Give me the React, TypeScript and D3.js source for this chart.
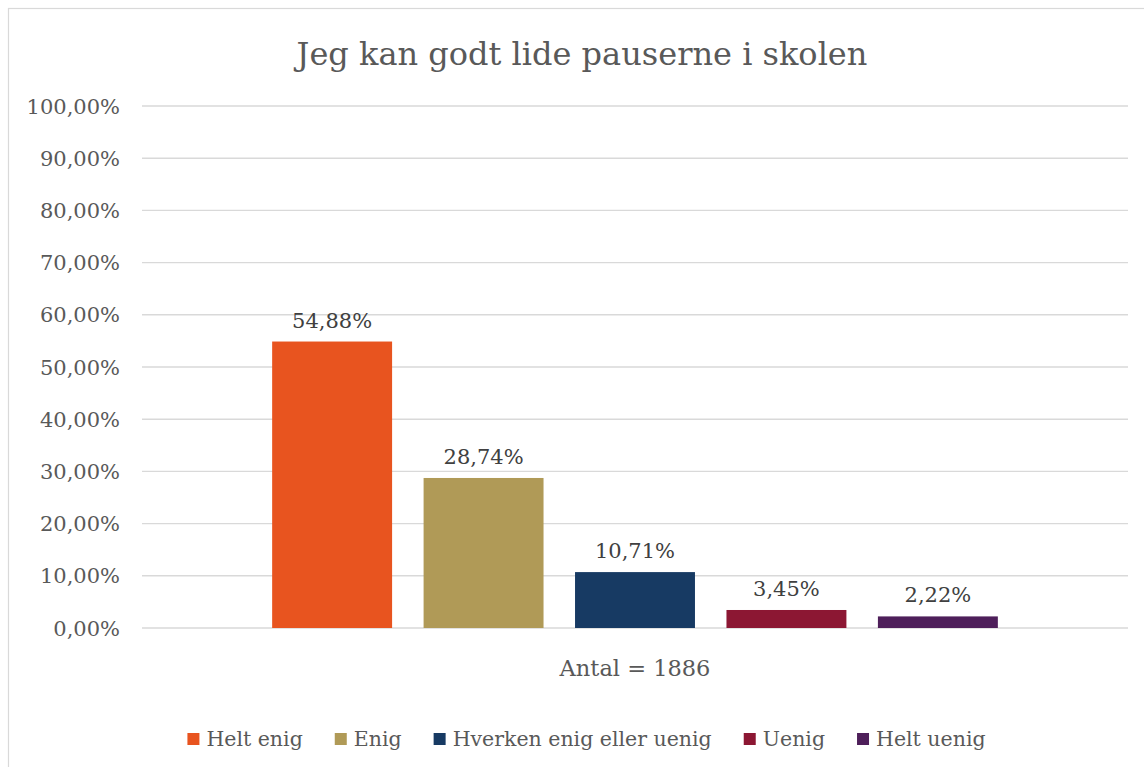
import React, { useEffect, useRef } from "react";
import * as d3 from "d3";

const title = "Jeg kan godt lide pauserne i skolen";
const category = "Antal = 1886";
const seriesNames = ["Helt enig", "Enig", "Hverken enig eller uenig", "Uenig", "Helt uenig"];
const seriesValues = [54.88, 28.74, 10.71, 3.45, 2.22];
const seriesColors = ["#E8541F", "#B09A57", "#173A63", "#8C1733", "#4E1F5A"];
const yTicks = [0, 10, 20, 30, 40, 50, 60, 70, 80, 90, 100];

const W = 1144;
const H = 767;
const FONT = "'DejaVu Serif', 'Liberation Serif', serif";

const fmt = (v: number) => v.toFixed(2).replace(".", ",") + "%";

export default function App() {
  const ref = useRef<SVGSVGElement | null>(null);

  useEffect(() => {
    const svg = d3.select(ref.current);
    svg.selectAll("*").remove();

    svg.append("rect")
      .attr("x", 8.5).attr("y", 8.5)
      .attr("width", W + 20).attr("height", H + 20)
      .attr("fill", "#fff").attr("stroke", "#d9d9d9").attr("stroke-width", 1.2);

    const plotLeft = 142, plotRight = 1128, plotTop = 106, plotBottom = 628;

    const y = d3.scaleLinear().domain([0, 100]).range([plotBottom, plotTop]);
    const xCat = d3.scaleBand().domain([category]).range([plotLeft, plotRight]).padding(0);
    const catCenter = xCat(category)! + xCat.bandwidth() / 2;
    const groupW = xCat.bandwidth() * 0.736;
    const xSer = d3.scaleBand().domain(seriesNames)
      .range([catCenter - groupW / 2, catCenter + groupW / 2])
      .paddingInner(0.208).paddingOuter(0);

    svg.append("g").selectAll("line").data(yTicks).join("line")
      .attr("x1", plotLeft).attr("x2", plotRight)
      .attr("y1", d => y(d)).attr("y2", d => y(d))
      .attr("stroke", "#d9d9d9").attr("stroke-width", 1.4);

    svg.append("g").selectAll("text").data(yTicks).join("text")
      .attr("x", 120).attr("y", d => y(d)).attr("dy", "0.36em")
      .attr("text-anchor", "end")
      .attr("font-family", FONT).attr("font-size", 21).attr("fill", "#595959")
      .text(d => fmt(d));

    const data = seriesNames.map((n, i) => ({ name: n, value: seriesValues[i], color: seriesColors[i] }));
    svg.append("g").selectAll("rect").data(data).join("rect")
      .attr("x", d => xSer(d.name)!).attr("width", xSer.bandwidth())
      .attr("y", d => y(d.value)).attr("height", d => y(0) - y(d.value))
      .attr("fill", d => d.color);

    svg.append("g").selectAll("text").data(data).join("text")
      .attr("x", d => xSer(d.name)! + xSer.bandwidth() / 2)
      .attr("y", d => y(d.value) - 14)
      .attr("text-anchor", "middle")
      .attr("font-family", FONT).attr("font-size", 21).attr("fill", "#404040")
      .text(d => fmt(d.value));

    svg.append("text")
      .attr("x", catCenter).attr("y", 676)
      .attr("text-anchor", "middle")
      .attr("font-family", FONT).attr("font-size", 22.5).attr("fill", "#595959")
      .text(category);

    svg.append("text")
      .attr("x", 582).attr("y", 65)
      .attr("text-anchor", "middle")
      .attr("font-family", FONT).attr("font-size", 32).attr("fill", "#595959")
      .text(title);

    const lg = svg.append("g");
    const items = lg.selectAll("g").data(data).join("g");
    items.append("rect").attr("width", 12).attr("height", 12).attr("y", -13).attr("fill", d => d.color);
    const texts = items.append("text").attr("x", 19).attr("y", 0)
      .attr("font-family", FONT).attr("font-size", 20.5).attr("fill", "#595959")
      .text(d => d.name);
    const widths: number[] = [];
    texts.each(function () { widths.push((this as SVGTextElement).getComputedTextLength()); });
    const gap = 32;
    const itemW = widths.map(w => 19 + w);
    const total = d3.sum(itemW) + gap * (itemW.length - 1);
    let cx = 586.5 - total / 2;
    const xs: number[] = [];
    itemW.forEach(w => { xs.push(cx); cx += w + gap; });
    items.attr("transform", (_d, i) => `translate(${xs[i]},746)`);
  }, []);

  return (
    <svg ref={ref} width={W} height={H}
      style={{ position: "absolute", left: 0, top: 0, display: "block", background: "#fff" }} />
  );
}
